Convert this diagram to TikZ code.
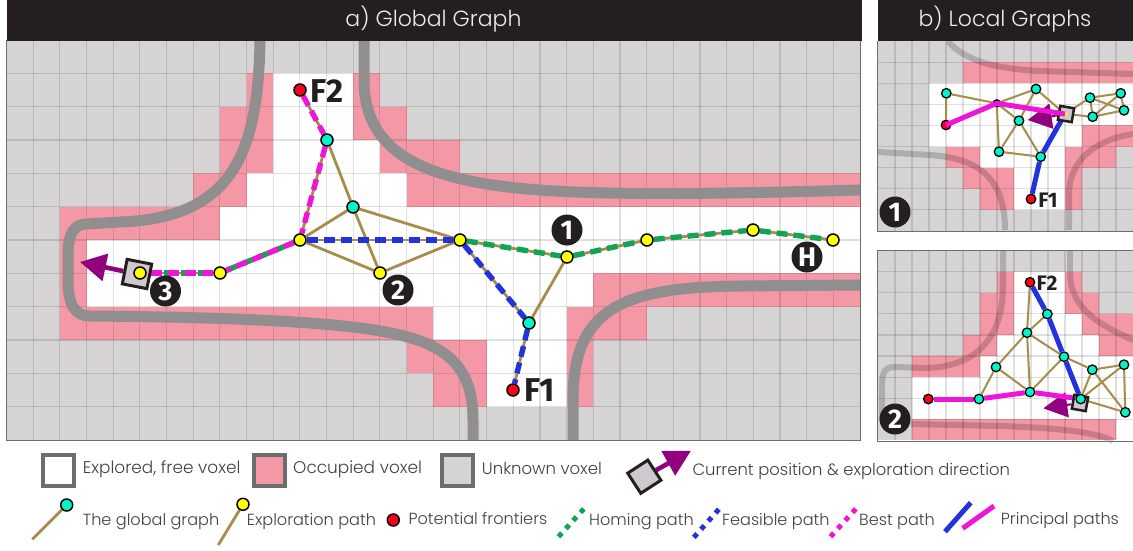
\documentclass[tikz,border=0pt]{standalone}
\usepackage{fontspec}
\setmainfont{Poppins}[UprightFont=* Light]
\newfontfamily\markfont{Fira Sans}
\usetikzlibrary{arrows.meta, backgrounds}
\definecolor{vunk}{HTML}{D6D3D4}
\definecolor{vpink}{HTML}{F598A6}
\definecolor{vframe}{HTML}{6D6D6D}
\definecolor{gwall}{HTML}{908E8E}
\definecolor{gink}{HTML}{231F20}
\definecolor{gtext}{HTML}{404040}
\definecolor{gbrown}{HTML}{A68D49}
\definecolor{gcyan}{HTML}{00F5C8}
\definecolor{gyellow}{HTML}{FFFF00}
\definecolor{gred}{HTML}{FF0018}
\definecolor{pgreen}{HTML}{12A356}
\definecolor{pblue}{HTML}{2233DD}
\definecolor{pmag}{HTML}{EE14D8}
\definecolor{ppurple}{HTML}{90007F}
\definecolor{rbox}{HTML}{CFC8CC}
\tikzset{
  cellgrid/.style={draw=black!12, line width=1.2pt, blend mode=multiply},
  wall/.style={draw=gwall, line width=11pt},
  ghost/.style={draw=black!18, line width=6pt, blend mode=multiply},
  gedge/.style={draw=gbrown, line width=2.8pt},
  ledge/.style={draw=gbrown, line width=2pt},
  homing/.style={draw=pgreen, line width=5.4pt, dash pattern=on 11pt off 6pt},
  feasible/.style={draw=pblue, line width=5.4pt, dash pattern=on 11pt off 6pt},
  bestpath/.style={draw=pmag, line width=5.4pt, dash pattern=on 11pt off 6pt},
  legdots/.style={draw=#1, line width=5pt, dash pattern=on 5pt off 5.9pt},
  princ/.style={draw=#1, line width=5pt},
  gnode/.style={circle, draw=black, fill=#1, line width=1.5pt, minimum size=12pt, inner sep=0pt},
  lnode/.style={circle, draw=black, fill=#1, line width=1.3pt, minimum size=9.5pt, inner sep=0pt},
  disc/.style={circle, fill=gink, text=white, minimum size=31pt, inner sep=0pt,
    font=\markfont\bfseries\fontsize{27}{27}\selectfont},
  flab/.style={text=gink, inner sep=0pt, font=\markfont\bfseries\fontsize{#1}{#1}\selectfont},
  ttl/.style={text=white!92!black, inner sep=0pt, font=\fontsize{22}{22}\selectfont},
  leg/.style={anchor=west, text=gtext, inner sep=0pt, text height=0.9em, text depth=0.1em,
    font=\fontsize{#1}{#1}\selectfont},
  legbox/.style={draw=vframe, fill=#1, line width=3.6pt, minimum size=31pt, inner sep=0pt},
  robot/.style={draw=gink, fill=rbox, line width=#1, inner sep=0pt},
  dirarrow/.style={draw=ppurple, line width=4.6pt, -{Triangle[length=26pt,width=27pt,fill=ppurple]}},
  dirsmall/.style={draw=ppurple, line width=2pt, -{Triangle[length=24pt,width=25pt,fill=ppurple]}}
}
\begin{document}
\begin{tikzpicture}[x=1pt,y=-1pt]
  \useasboundingbox (0,0) rectangle (1133,550);
  % global graph nodes
  \foreach \nm/\x/\y/\col in {gr1/300/240/gyellow, gr2/380/273/gyellow, gr3/460/240/gyellow,
    gr4/567/257/gyellow, gr5/647/240/gyellow, gr6/753/230/gyellow, gr7/833/240/gyellow,
    gr8/220/273/gyellow, gc1/327/140/gcyan, gc2/353/207/gcyan, gc3/529/323/gcyan,
    gf1/513/390/gred, gf2/300/90/gred} {
    \node[gnode=\col] (\nm) at (\x,\y) {};
  }
  \node[robot=3pt, minimum size=25pt, rotate=-11] (grob) at (137,274) {};
  \node[gnode=gyellow] (gr0) at (140,273) {};
  \coordinate (gtip) at (80,262);
  % local graph 1 nodes
  \foreach \nm/\x/\y/\col in {a1/946.3/93.3/gcyan, a2/946/125/gred, a4/1036/89/gcyan,
    a5/1019/120.7/gcyan, a6/999/151.7/gcyan, a7/1040.7/156.7/gcyan, a8/1031/199/gred,
    a9/1090/97.7/gcyan, a10/1092.7/116.7/gcyan, a11/1120.7/93.3/gcyan, a12/1124/110.3/gcyan} {
    \node[lnode=\col] (\nm) at (\x,\y) {};
  }
  \node[lnode=black, minimum size=7pt] (a3) at (996.7,103.3) {};
  \node[robot=2.5pt, minimum size=14pt, rotate=-10] (arob) at (1066,114) {};
  \node[circle, fill=gyellow, minimum size=5pt, inner sep=0pt] (a0) at (1065,114) {};
  \coordinate (atip) at (1027.7,120);
  % local graph 2 nodes
  \node[robot=2.5pt, minimum size=14pt, rotate=-10] (brob) at (1080,403) {};
  \foreach \nm/\x/\y/\col in {b1/1030/282.3/gred, b2/1047.3/314/gcyan, b3/1027/332.7/gcyan,
    b4/1064/356.7/gcyan, b5/996/367/gcyan, b6/1030/392/gcyan, b7/1092.3/369.7/gcyan,
    b8/1124/364.7/gcyan, b9/1125.3/412.3/gcyan, b10/1080.7/399/gcyan, b11/979/399/gcyan,
    b12/928.3/399/gred} {
    \node[lnode=\col] (\nm) at (\x,\y) {};
  }
  \coordinate (btip) at (1043.3,408.3);
  % legend nodes
  \node[legbox=white] (lfree) at (58.5,470.5) {};
  \node[legbox=vpink] (locc) at (269.5,470.5) {};
  \node[legbox=vunk] (lunk) at (457.5,470.5) {};
  \node[robot=3pt, minimum size=24pt, rotate=33] (lrob) at (644.3,476.7) {};
  \coordinate (ltip) at (691,450.7);
  \node[gnode=gcyan] (lcyan) at (66.7,505) {};
  \coordinate (lcyanend) at (32.3,539.3);
  \node[gnode=gyellow] (lyel) at (243,504.3) {};
  \coordinate (lyelend) at (218.3,545);
  \node[gnode=gred] (lred) at (393.3,520) {};
  \begin{scope}[on background layer]
    % global map
    \begin{scope}[shift={(6.5,40)}, x=26.67pt, y=-33.33pt]
      \fill[vunk] (0,0) rectangle (32,12);
      \foreach \r/\a/\b in {1/9/10, 1/13/14, 2/8/10, 2/13/15, 3/8/10, 3/14/17, 4/7/9, 4/15/32,
        5/2/8, 6/2/3, 7/2/3, 7/22/32, 8/2/16, 8/21/24, 9/15/18, 9/21/22, 10/16/18, 10/21/22} {
        \fill[vpink] (\a,\r) rectangle (\b,\r+1);
      }
      \foreach \r/\a/\b in {1/10/13, 2/10/13, 3/10/14, 4/9/15, 5/8/32, 6/3/32, 7/3/22,
        8/16/21, 9/18/21, 10/18/21} {
        \fill[white] (\a,\r) rectangle (\b,\r+1);
      }
      \foreach \i in {1,...,31} {\draw[cellgrid] (\i,0) -- (\i,12);}
      \foreach \j in {1,...,11} {\draw[cellgrid] (0,\j) -- (32,\j);}
    \end{scope}
    \draw[wall] (260,41) .. controls (258,150) and (235,218) .. (120,222) -- (87,224)
      .. controls (75,224) and (68,232) .. (68,255) -- (68,280)
      .. controls (68,305) and (75,316) .. (90,316)
      .. controls (200,317) and (340,320) .. (400,335)
      .. controls (450,347) and (473,370) .. (473,420) -- (473,440);
    \draw[wall] (364,41) -- (364,80) .. controls (364,150) and (420,175) .. (500,186)
      .. controls (560,194) and (650,196) .. (860,190);
    \draw[wall] (573,440) -- (573,400) .. controls (573,310) and (620,287) .. (740,286) -- (860,285);
    \draw[line width=1pt, draw=vframe] (6.5,40) -- (6.5,440.5) -- (860.5,440.5) -- (860.5,40);
    \fill[gink] (6.5,0) rectangle (862,41);
    \fill[gink] (877.5,0) rectangle (1133,41);
    % local map 1
    \begin{scope}[shift={(878,41)}, x=17pt, y=-21.1pt]
      \fill[vunk] (0,0) rectangle (15,9);
      \foreach \r/\a/\b in {1/5/15, 4/12/15, 5/4/6, 5/11/14, 6/5/8, 6/11/12, 7/6/8, 7/11/12} {
        \fill[vpink] (\a,\r) rectangle (\b,\r+1);
      }
      \foreach \r/\a/\b in {2/3/15, 3/3/15, 4/3/12, 5/6/11, 6/8/11, 7/8/11} {
        \fill[white] (\a,\r) rectangle (\b,\r+1);
      }
      \foreach \i in {1,...,14} {\draw[cellgrid] (\i,0) -- (\i,9);}
      \foreach \j in {1,...,8} {\draw[cellgrid] (0,\j) -- (15,\j);}
    \end{scope}
    \draw[ghost] (948,41) .. controls (965,62) and (1000,69) .. (1040,71) -- (1133,74);
    \draw[ghost] (878,152) -- (930,155) .. controls (975,158) and (1005,175) .. (1005,230);
    \draw[ghost] (1069,230) -- (1069,195) .. controls (1069,160) and (1095,140) .. (1133,134);
    \draw[line width=1pt, draw=vframe] (877.5,41) -- (877.5,231) -- (1133,231);
    % local map 2
    \begin{scope}[shift={(878,250.5)}, x=17pt, y=-21.1pt]
      \fill[vunk] (0,0) rectangle (15,9);
      \foreach \r/\a/\b in {1/7/8, 1/11/12, 2/6/8, 2/11/13, 3/6/8, 3/12/15, 4/5/7, 4/13/15,
        5/2/6, 8/2/14} {
        \fill[vpink] (\a,\r) rectangle (\b,\r+1);
      }
      \foreach \r/\a/\b in {1/8/11, 2/8/11, 3/8/12, 4/7/13, 5/6/15, 6/2/15, 7/2/15, 8/14/15} {
        \fill[white] (\a,\r) rectangle (\b,\r+1);
      }
      \foreach \i in {1,...,14} {\draw[cellgrid] (\i,0) -- (\i,9);}
      \foreach \j in {1,...,8} {\draw[cellgrid] (0,\j) -- (15,\j);}
    \end{scope}
    \draw[ghost] (1003,250) -- (1003,285) .. controls (1003,340) and (975,367) .. (925,368) -- (895,367)
      .. controls (885,367) and (882,372) .. (882,385) -- (882,420);
    \draw[ghost] (1070,250) -- (1070,275) .. controls (1072,310) and (1100,325) .. (1133,340);
    \draw[ghost] (911,424) -- (1000,426) .. controls (1060,428) and (1095,432) .. (1113,441);
    \draw[line width=1pt, draw=vframe] (1133,250.5) -- (877.5,250.5) -- (877.5,441) -- (1133,441);
    % global graph edges
    \foreach \a/\b in {gf2/gc1, gc1/gr1, gc1/gc2, gc2/gr1, gc2/gr2, gc2/gr3, gr1/gr2, gr2/gr3,
      gr1/gr3, gr1/gr8, gr8/gr0, gr3/gr4, gr4/gr5, gr5/gr6, gr6/gr7, gr4/gc3, gr3/gc3, gc3/gf1} {
      \draw[gedge] (\a) -- (\b);
    }
    \foreach \a/\b in {gr0/gr8, gr8/gr1, gr1/gr3, gr3/gr4, gr4/gr5, gr5/gr6, gr6/gr7} {
      \draw[homing] (\a) -- (\b);
    }
    \foreach \a/\b in {gr1/gr3, gr3/gc3, gc3/gf1} {
      \draw[feasible] (\a) -- (\b);
    }
    \foreach \a/\b in {gf2/gc1, gc1/gr1, gr1/gr8, gr8/gr0} {
      \draw[bestpath] (\a) -- (\b);
    }
    \draw[dirarrow] (grob) -- (gtip);
    % local graph edges
    \foreach \a/\b in {a1/a2, a1/a3, a3/a4, a3/a5, a3/a6, a5/a4, a5/a6, a5/a7, a6/a7, a4/a0,
      a0/a9, a0/a10, a9/a10, a9/a11, a9/a12, a10/a11, a10/a12, a11/a12, b1/b3, b2/b3, b3/b4,
      b3/b5, b3/b6, b4/b6, b4/b7, b5/b6, b5/b11, b7/b8, b7/b9, b7/b10, b8/b9, b8/b10, b9/b10} {
      \draw[ledge] (\a) -- (\b);
    }
    \draw[dirsmall] (arob) -- (atip);
    \draw[dirsmall] (brob) -- (btip);
    \foreach \a/\b in {a8/a7, a7/a0, b1/b2, b2/b4, b4/b10} {
      \draw[princ=pblue] (\a) -- (\b);
    }
    \foreach \a/\b in {b12/b11, b11/b6, b6/b10} {
      \draw[princ=pmag] (\a) -- (\b);
    }
    % legend connectors
    \draw[gedge] (lcyan) -- (lcyanend);
    \draw[gedge] (lyel) -- (lyelend);
    \draw[dirarrow] (lrob) -- (ltip);
  \end{scope}
  \draw[princ=pmag] (a2.center) -- (a3.center) -- (a0.center);
  % labels
  \node[ttl] (ttla) at (433.5,19) {a) Global Graph};
  \node[ttl] (ttlb) at (1005,19) {b) Local Graphs};
  \node[flab=33] (lf2) at (327,91) {F2};
  \node[flab=33] (lf1) at (540,390) {F1};
  \node[flab=21] (la1) at (1048,200) {F1};
  \node[flab=21] (lb2) at (1047,283) {F2};
  \node[disc] (m3) at (165.5,291) {3};
  \node[disc] (m2) at (398,290) {2};
  \node[disc] (m1) at (567,230) {1};
  \node[disc] (mh) at (807,257) {H};
  \node[disc] (ma) at (895,212) {1};
  \node[disc] (mb) at (895,419) {2};
  % legend
  \node[leg=16.9] (t1) at (82.7,469) {Explored, free voxel};
  \node[leg=16.9] (t2) at (293,469) {Occupied voxel};
  \node[leg=16.5] (t3) at (481.7,470) {Unknown voxel};
  \node[leg=16.4] (t4) at (692.3,471.5) {Current position \& exploration direction};
  \node[leg=16.1] (t5) at (82.7,521) {The global graph};
  \node[leg=16.1] (t6) at (246.7,521) {Exploration path};
  \node[leg=16.1] (t7) at (408.3,520) {Potential frontiers};
  \node[leg=16.1] (t8) at (589,521.5) {Homing path};
  \node[leg=16.1] (t9) at (722,521.5) {Feasible path};
  \node[leg=16.1] (t10) at (859,521) {Best path};
  \node[leg=16.1] (t11) at (1000.7,520.5) {Principal paths};
  \coordinate (hs) at (558.5,536.7);
  \coordinate (he) at (585,507.5);
  \draw[legdots=pgreen] (hs) -- (he);
  \coordinate (fs) at (693.8,537.4);
  \coordinate (fe) at (720,508);
  \draw[legdots=pblue] (fs) -- (fe);
  \coordinate (bs) at (830.5,536.7);
  \coordinate (be) at (857,507.5);
  \draw[legdots=pmag] (bs) -- (be);
  \coordinate (p1s) at (945,531.7);
  \coordinate (p1e) at (970.7,502.7);
  \draw[princ=pblue] (p1s) -- (p1e);
  \coordinate (p2s) at (962.7,528.3);
  \coordinate (p2e) at (994,506);
  \draw[princ=pmag] (p2s) -- (p2e);
\end{tikzpicture}
\end{document}
